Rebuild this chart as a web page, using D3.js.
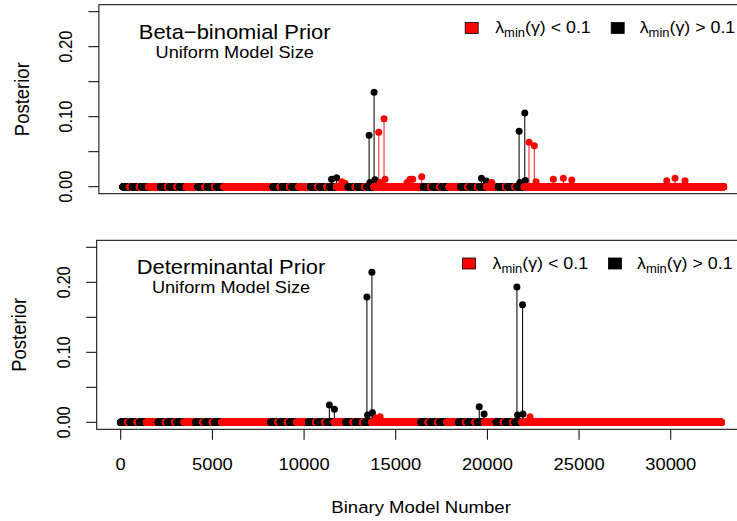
<!DOCTYPE html>
<html><head><meta charset="utf-8">
<script src="https://cdn.jsdelivr.net/npm/d3@7"></script>
<style>body{margin:0;background:#fff}svg{display:block}</style>
</head><body>
<script>
// ---------------- DATA ----------------
const N_MODELS = 32768;
// colour class of each 512-model block inside each 2048-model chunk (B: λmin>0.1, R: λmin<0.1)
const chunkBlocks = ["BBBR","BBBR","BBBR","RRRR","BBBR","BBBR","BBBR","RRRR",
                     "BBBR","BBBR","BBBR","RRRR","RRRR","RRRR","RRRR","RRRR"];
// inside a "B" block: class of each 128-model sub-block
const subBlocks = "BBBR";

// Beta-binomial prior: models with visible posterior mass
const betaModels = [11380, 11655, 11935, 12115, 13428, 13470, 13700, 13745, 13953, 14024, 14242, 14297,
                    15496, 15660, 15807, 16298, 19555, 19820, 20117, 21610, 21650, 21918, 21945,
                    22150, 22440, 22534, 23477, 24023, 24481, 29663, 30115, 30660];
const betaPost   = [0.0106, 0.0129, 0.007, 0.005, 0.0734, 0.006, 0.1349, 0.010, 0.0777, 0.006, 0.0971, 0.0106,
                    0.006, 0.0106, 0.0106, 0.0143, 0.012, 0.008, 0.006, 0.0791, 0.006, 0.1053, 0.009,
                    0.0634, 0.0586, 0.007, 0.0106, 0.012, 0.0096, 0.0086, 0.012, 0.0086];
const betaClass  = ["B","B","R","R","B","B","B","B","R","R","R","R",
                    "R","R","R","R","B","B","R","B","B","B","B",
                    "R","R","R","R","R","R","R","R","R"];

// Determinantal prior
const detModels = [11380, 11655, 13428, 13460, 13700, 13730, 13925, 14144, 19555, 19820, 21610, 21645, 21918, 21940, 22326];
const detPost   = [0.0247, 0.0186, 0.179, 0.0104, 0.2143, 0.0137, 0.006, 0.008, 0.0223, 0.0119, 0.1933, 0.0104, 0.168, 0.0119, 0.008];
const detClass  = ["B","B","B","B","B","B","R","R","B","B","B","B","B","B","R"];

const xTicks = [0, 5000, 10000, 15000, 20000, 25000, 30000];
const yTicks = [0, 0.05, 0.10, 0.15, 0.20, 0.25];
const yTickLabels = ["0.00", "", "0.10", "", "0.20", ""];
const classColor = {R: "#ff0000", B: "#000000"};

// ---------------- LAYOUT ----------------
const W = 737, H = 521, SX = 1.08;
const FONT = "'Liberation Sans', Arial, Helvetica, sans-serif";
const svg = d3.select("body").append("svg").attr("width", W).attr("height", H)
  .style("font-family", FONT);

function backgroundClass(i) {
  const chunk = chunkBlocks[Math.floor(i / 2048)];
  const c = chunk[Math.floor((i % 2048) / 512)];
  if (c === "R") return "R";
  return subBlocks[Math.floor((i % 512) / 128)];
}

function hText(g, x, y, txt, size, anchor) {
  return g.append("text").attr("transform", `translate(${x},${y}) scale(${SX},1)`)
    .attr("font-size", size).attr("text-anchor", anchor || "middle").attr("fill", "#000").text(txt);
}

function legendItem(g, sqX, sqY, tx, ty, cls, op) {
  g.append("rect").attr("x", sqX - 6.5).attr("y", sqY - 5.5).attr("width", 13).attr("height", 11)
    .attr("fill", classColor[cls]).attr("stroke", "#000").attr("stroke-width", 0.8);
  const t = g.append("text").attr("transform", `translate(${tx},${ty}) scale(${SX},1)`)
    .attr("font-size", 16.5).attr("fill", "#000");
  t.append("tspan").text("λ");
  t.append("tspan").attr("font-size", 12).attr("dy", 4).text("min");
  t.append("tspan").attr("dy", -4).text("(γ)");
  t.append("tspan").text(" " + op + " 0.1");
}

function panel(o) {
  const g = svg.append("g");
  const x = d3.scaleLinear().domain([-0.04 * (N_MODELS - 1), 1.04 * (N_MODELS - 1)]).range([o.left, o.left + 648.8]);
  const y = d3.scaleLinear().domain([-0.01, 0.26]).range([o.bottom, o.bottom - 189]);

  const pts = d3.range(N_MODELS).map(i => ({i, v: 0, c: backgroundClass(i)}));
  o.models.forEach((m, k) => { pts[m].v = o.post[k]; pts[m].c = o.cls[k]; });
  const high = pts.filter(p => p.v > 0);

  g.append("g").selectAll("line").data(high).join("line")
    .attr("x1", p => x(p.i)).attr("x2", p => x(p.i))
    .attr("y1", y(0)).attr("y2", p => y(p.v))
    .attr("stroke", p => p.c === "R" ? "#ff3030" : "#111").attr("stroke-width", 1.1);

  g.append("g").selectAll("circle").data(pts).join("circle")
    .attr("cx", p => x(p.i)).attr("cy", p => y(p.v)).attr("r", 3.5)
    .attr("fill", p => classColor[p.c]);

  // box
  g.append("rect").attr("x", x.range()[0]).attr("y", y.range()[1])
    .attr("width", x.range()[1] - x.range()[0]).attr("height", y.range()[0] - y.range()[1])
    .attr("fill", "none").attr("stroke", "#000").attr("stroke-width", 1);

  // y axis
  const xl = x.range()[0];
  g.append("g").selectAll("line").data(yTicks).join("line")
    .attr("x1", xl - 10.5).attr("x2", xl).attr("y1", d => y(d)).attr("y2", d => y(d))
    .attr("stroke", "#000").attr("stroke-width", 1);
  yTicks.forEach((d, k) => {
    if (!yTickLabels[k]) return;
    g.append("text").attr("transform", `translate(${xl - 27},${y(d)}) scale(${SX},1) rotate(-90)`)
      .attr("font-size", 16.6).attr("text-anchor", "middle").text(yTickLabels[k]);
  });
  g.append("text").attr("transform", `translate(${o.ylabX},${(y.range()[0] + y.range()[1]) / 2}) scale(${SX},1) rotate(-90)`)
    .attr("font-size", 18.5).attr("text-anchor", "middle").text("Posterior");

  if (o.xaxis) {
    const yb = y.range()[0];
    g.append("g").selectAll("line").data(xTicks).join("line")
      .attr("x1", d => x(d)).attr("x2", d => x(d)).attr("y1", yb).attr("y2", yb + 10.5)
      .attr("stroke", "#000").attr("stroke-width", 1);
    xTicks.forEach(d => hText(g, x(d), 470, String(d), 17));
    hText(g, (x.range()[0] + x.range()[1]) / 2, 513, "Binary Model Number", 17.2);
  }

  hText(g, o.titleX, o.titleY, o.title, 20.3);
  hText(g, o.titleX, o.titleY + 19.6, "Uniform Model Size", 16.8);

  legendItem(g, o.legX, o.legY, o.legX + 23.5, o.legY + 5, "R", "<");
  legendItem(g, o.legX + 146, o.legY, o.legX + 168, o.legY + 5, "B", ">");
}

panel({left: 98.9, bottom: 193.7, models: betaModels, post: betaPost, cls: betaClass, xaxis: false,
       ylabX: 28.5, title: "Beta\u2212binomial Prior", titleX: 234.7, titleY: 38.5, legX: 471.7, legY: 28});
panel({left: 96.7, bottom: 429.3, models: detModels, post: detPost, cls: detClass, xaxis: true,
       ylabX: 26, title: "Determinantal Prior", titleX: 231, titleY: 273.5, legX: 469, legY: 263.5});
</script>
</body></html>
